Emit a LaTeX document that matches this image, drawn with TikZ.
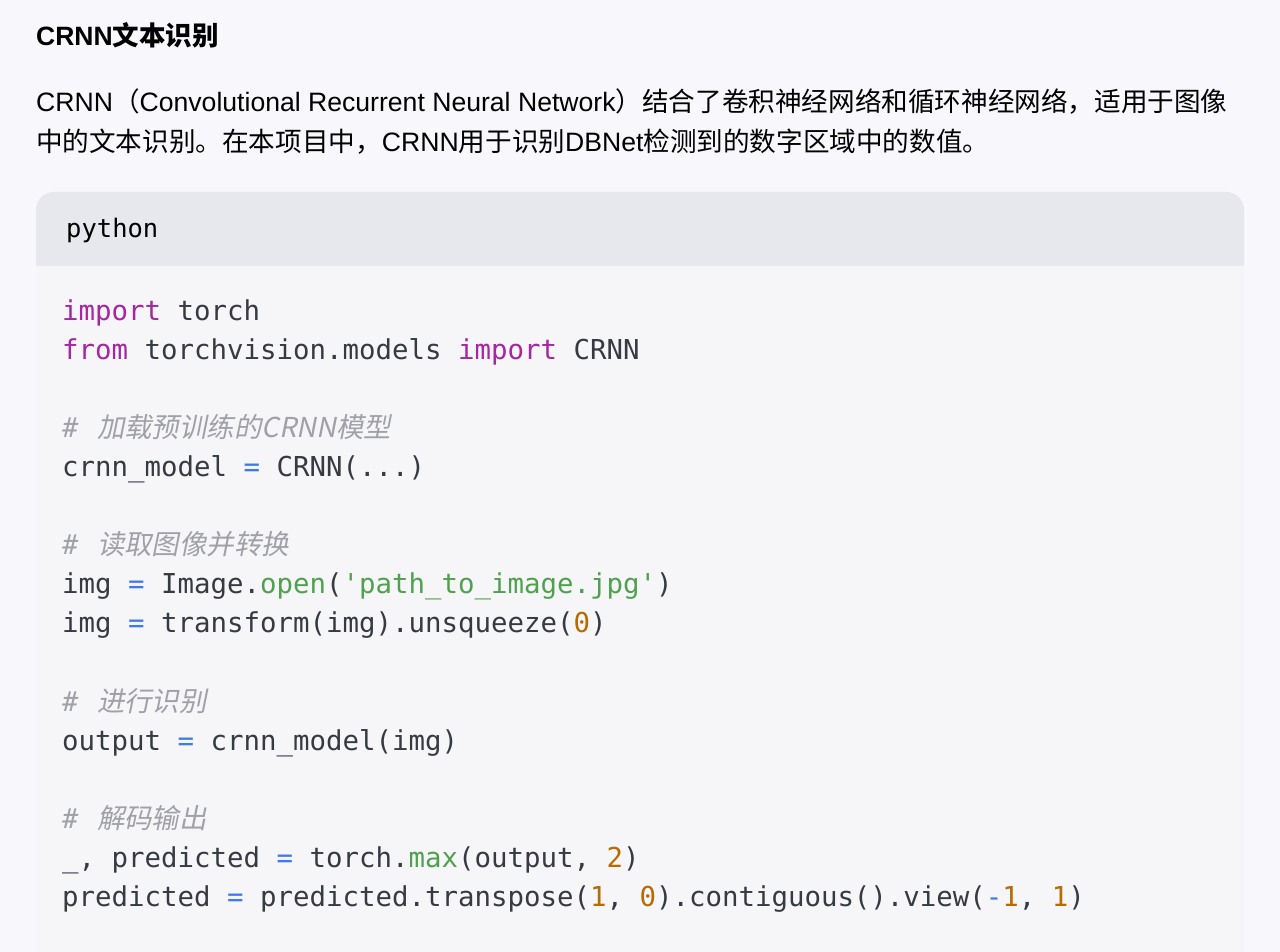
\documentclass[tikz,border=0pt]{standalone}
\usepackage{fontspec}
\setmainfont{Liberation Sans}
\newfontfamily\cjk{Noto Sans CJK SC}
\newfontfamily\cjki[FakeSlant=0.2]{Noto Sans CJK SC}
\setmonofont{DejaVu Sans Mono}
\definecolor{bgc}{HTML}{F8F8FC}
\definecolor{hdr}{HTML}{E7E8EE}
\definecolor{body}{HTML}{F6F6F8}
\definecolor{kw}{HTML}{A626A4}
\definecolor{st}{HTML}{50A14F}
\definecolor{nm}{HTML}{B76B01}
\definecolor{cm}{HTML}{A0A1A7}
\definecolor{op}{HTML}{4078F2}
\definecolor{tx}{HTML}{383A42}
\newcommand\K[1]{\textcolor{kw}{#1}}
\newcommand\Sg[1]{\textcolor{st}{#1}}
\newcommand\N[1]{\textcolor{nm}{#1}}
\newcommand\Q{\textcolor{op}{=}}
\newcommand\M{\textcolor{op}{-}}
\newcommand\Cm[1]{\textcolor{cm}{\itshape\#\ \hspace{2pt}{\cjki #1}}}
\newcommand\C[1]{{\cjk #1}}
\begin{document}
\begin{tikzpicture}[x=1pt,y=-1pt,
  code/.style={anchor=base west,inner sep=0pt,font=\ttfamily\fontsize{27.4}{30}\selectfont,text=tx},
  prose/.style={anchor=base west,inner sep=0pt,font=\fontsize{26.6}{28}\selectfont,text=black}]
\fill[bgc] (0,0) rectangle (1280,952);
\useasboundingbox (0,0) rectangle (1280,952);
\fill[body,rounded corners=18pt] (36,192) rectangle (1244,1000);
\fill[hdr] [rounded corners=18pt] (36,266) -- (36,192) -- (1244,192) [sharp corners] -- (1244,266) -- cycle;
\node[anchor=base west,inner sep=0pt,font=\bfseries\fontsize{26.5}{28}\selectfont] (title) at (36,46) {CRNN{\cjk\bfseries 文本识别}};
\node[prose] (p1) at (36,112) {CRNN\C{（}Convolutional Recurrent Neural Network\C{）结合了卷积神经网络和循环神经网络，适用于图像}};
\node[prose] (p2) at (36,152) {\C{中的文本识别。在本项目中，}CRNN\C{用于识别}DBNet\C{检测到的数字区域中的数值。}};
\node[code,text=black,font=\ttfamily\fontsize{25.5}{30}\selectfont] (lang) at (66,237) {python};
\node[code] (l1) at (62,320) {\K{import} torch};
\node[code] (l2) at (62,359) {\K{from} torchvision.models \K{import} CRNN};
\node[code] (l4) at (62,437) {\Cm{加载预训练的CRNN模型}};
\node[code] (l5) at (62,476) {crnn\_model \Q{} CRNN(...)};
\node[code] (l7) at (62,554) {\Cm{读取图像并转换}};
\node[code] (l8) at (62,593) {img \Q{} Image.\Sg{open}(\Sg{'path\_to\_image.jpg'})};
\node[code] (l9) at (62,632) {img \Q{} transform(img).unsqueeze(\N{0})};
\node[code] (l11) at (62,711) {\Cm{进行识别}};
\node[code] (l12) at (62,750) {output \Q{} crnn\_model(img)};
\node[code] (l14) at (62,828) {\Cm{解码输出}};
\node[code] (l15) at (62,867) {\_, predicted \Q{} torch.\Sg{max}(output, \N{2})};
\node[code] (l16) at (62,906) {predicted \Q{} predicted.transpose(\N{1}, \N{0}).contiguous().view(\M\N{1}, \N{1})};
\end{tikzpicture}
\end{document}
